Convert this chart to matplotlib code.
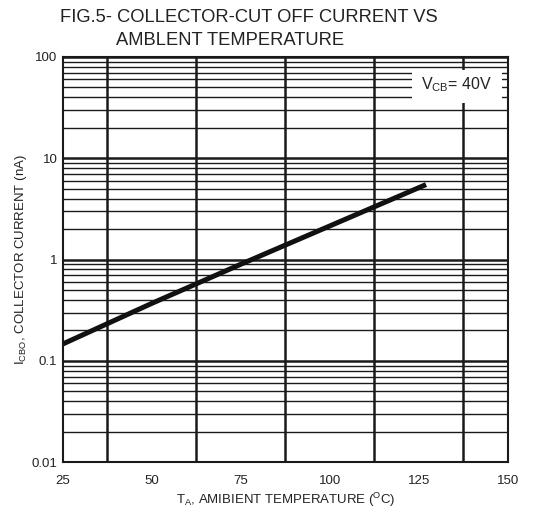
import numpy as np
import matplotlib.pyplot as plt
from matplotlib.patches import Rectangle
from matplotlib.ticker import FixedLocator, NullFormatter

plt.rcParams['font.family'] = ['Liberation Sans', 'DejaVu Sans']
plt.rcParams['mathtext.fontset'] = 'custom'
plt.rcParams['mathtext.rm'] = 'Liberation Sans'
plt.rcParams['mathtext.it'] = 'Liberation Sans'

# data
temp = [25, 50, 75, 100, 127]
icbo = [0.147, 0.37, 0.90, 2.15, 5.5]

x_ticks = [25, 50, 75, 100, 125, 150]
y_ticks = [0.01, 0.1, 1, 10, 100]
y_labels = ['0.01', '0.1', '1', '10', '100']

fig = plt.figure(figsize=(5.33, 5.13), dpi=100)
ax = fig.add_axes([0.118, 0.099, 0.835, 0.790])

ax.set_yscale('log')
ax.set_xlim(25, 150)
ax.set_ylim(0.01, 100)

# grid: every 12.5 degC vertical, 1..9 per decade horizontal
ax.xaxis.set_major_locator(FixedLocator(x_ticks))
ax.xaxis.set_minor_locator(FixedLocator(np.arange(25, 151, 12.5)))
ax.yaxis.set_major_locator(FixedLocator(y_ticks))
minors = [m * 10.0**d for d in range(-2, 2) for m in range(2, 10)]
ax.yaxis.set_minor_locator(FixedLocator(minors))
ax.yaxis.set_minor_formatter(NullFormatter())
ax.set_yticklabels(y_labels)

ax.grid(which='major', axis='y', color='#1a1a1a', lw=1.8)
ax.grid(which='minor', axis='y', color='#1a1a1a', lw=1.0)
ax.grid(which='minor', axis='x', color='#1a1a1a', lw=1.8)
ax.tick_params(which='both', length=0, labelsize=9.5, colors='#222222')
ax.tick_params(axis='x', pad=9)
ax.tick_params(axis='y', pad=4)
for s in ax.spines.values():
    s.set_color('#1a1a1a')
    s.set_linewidth(1.5)

ax.plot(temp, icbo, color='#111111', lw=3.6, solid_capstyle='butt', zorder=5)

# white label box over the grid
ax.add_patch(Rectangle((0.784, 0.886), 0.203, 0.082, transform=ax.transAxes,
                       facecolor='white', edgecolor='none', zorder=6))
ax.text(0.885, 0.931, r'V$_\mathrm{CB}$= 40V', transform=ax.transAxes,
        ha='center', va='center', fontsize=11.5, color='#222222', zorder=7)

ax.set_xlabel(r'T$_\mathrm{A}$, AMIBIENT TEMPERATURE ($^\mathrm{O}$C)',
              fontsize=9.5, color='#222222', labelpad=3)
ax.set_ylabel(r'I$_\mathrm{CBO}$, COLLECTOR CURRENT (nA)',
              fontsize=9.5, color='#222222', labelpad=2)

fig.text(0.113, 0.965, 'FIG.5- COLLECTOR-CUT OFF CURRENT VS',
         fontsize=13.2, color='#222222', va='center')
fig.text(0.218, 0.921, 'AMBLENT TEMPERATURE',
         fontsize=13.2, color='#222222', va='center')

fig.savefig('out.png', dpi=100, facecolor='white')
